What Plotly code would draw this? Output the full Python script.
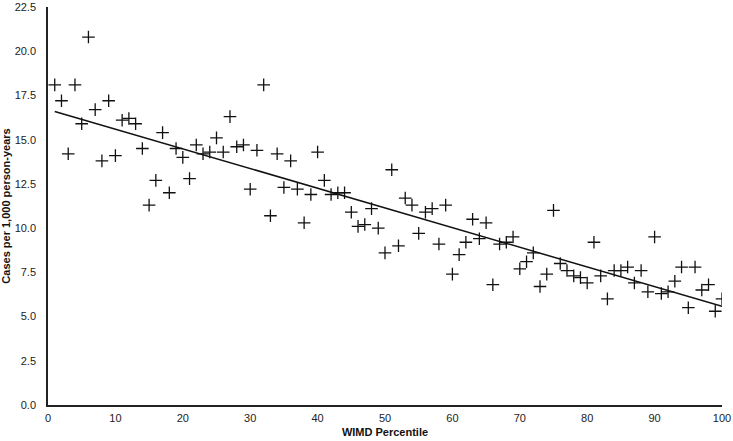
import numpy as np
import plotly.graph_objects as go

# WIMD percentile (1..100) and observed rate per 1,000 person-years
percentile = list(range(1, 101))
rate = [
    18.1, 17.2, 14.2, 18.1, 15.9, 20.8, 16.7, 13.8, 17.2, 14.1,
    16.1, 16.2, 15.9, 14.5, 11.3, 12.7, 15.4, 12.0, 14.5, 14.0,
    12.8, 14.7, 14.2, 14.3, 15.1, 14.3, 16.3, 14.6, 14.7, 12.2,
    14.4, 18.1, 10.7, 14.2, 12.3, 13.8, 12.2, 10.3, 11.9, 14.3,
    12.7, 11.9, 12.0, 12.0, 10.9, 10.1, 10.2, 11.1, 10.0, 8.6,
    13.3, 9.0, 11.7, 11.3, 9.7, 10.9, 11.1, 9.1, 11.3, 7.4,
    8.5, 9.2, 10.5, 9.4, 10.3, 6.8, 9.1, 9.2, 9.5, 7.7,
    8.1, 8.6, 6.7, 7.4, 11.0, 8.0, 7.6, 7.3, 7.2, 6.9,
    9.2, 7.3, 6.0, 7.6, 7.6, 7.8, 6.9, 7.6, 6.4, 9.5,
    6.3, 6.4, 7.0, 7.8, 5.5, 7.8, 6.5, 6.8, 5.3, 6.0,
]

x_ticks = [0, 10, 20, 30, 40, 50, 60, 70, 80, 90, 100]
y_ticks = [0, 2.5, 5, 7.5, 10, 12.5, 15, 17.5, 20, 22.5]

# least-squares trend line
slope, intercept = np.polyfit(percentile, rate, 1)
trend_x = [percentile[0], percentile[-1]]
trend_y = [intercept + slope * v for v in trend_x]

fig = go.Figure()
fig.add_trace(go.Scatter(
    x=percentile, y=rate, mode="markers",
    marker=dict(symbol="cross-thin-open", size=9, color="#111111",
                line=dict(color="#111111", width=1.3)),
    showlegend=False,
))
fig.add_trace(go.Scatter(
    x=trend_x, y=trend_y, mode="lines",
    line=dict(color="#111111", width=1.5),
    showlegend=False,
))

font = "Liberation Sans, Arial, sans-serif"
fig.update_layout(
    width=733, height=441,
    margin=dict(l=48, r=11, t=7, b=36),
    paper_bgcolor="white", plot_bgcolor="white",
    font=dict(family=font, size=11, color="#222222"),
)
fig.update_xaxes(
    range=[0, 100], tickvals=x_ticks, automargin=False,
    showgrid=False, zeroline=False, showline=True,
    linecolor="#222222", linewidth=1.5, ticks="", ticklabelstandoff=2,
    ticklabeloverflow="allow",
    title=dict(text="<b>WIMD Percentile</b>", standoff=5,
               font=dict(size=11, color="#111111")),
)
fig.update_yaxes(
    range=[0, 22.5], tickvals=y_ticks, automargin=False,
    ticktext=[f"{v:.1f}" for v in y_ticks],
    showgrid=False, zeroline=False, showline=True,
    linecolor="#222222", linewidth=1.5, ticks="", ticklabelstandoff=8,
    ticklabeloverflow="allow",
    title=dict(text="<b>Cases per 1,000 person-years</b>", standoff=2,
               font=dict(size=11, color="#111111")),
)

# drop the browser's default body margin so the figure fills the window
fig.write_html("out.html", config={"displayModeBar": False},
               post_script="document.body.style.margin='0';")
